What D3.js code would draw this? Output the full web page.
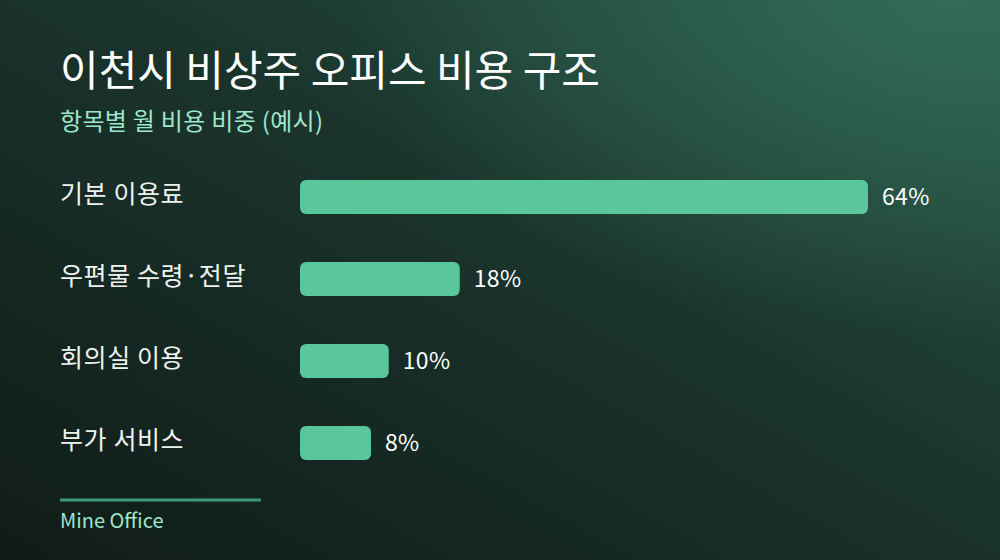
<!DOCTYPE html>
<html>
<head>
<meta charset="utf-8">
<script src="https://cdn.jsdelivr.net/npm/d3@7"></script>
<style>
  html, body { margin: 0; padding: 0; background: #111c19; }
  svg { display: block; font-family: "Noto Sans CJK KR", "Noto Sans", sans-serif; }
</style>
</head>
<body>
<div class="chart-div"></div>
<script>
const categories = ["기본 이용료", "우편물 수령·전달", "회의실 이용", "부가 서비스"]
const shares = [64, 18, 10, 8]
const valueLabels = ["64%", "18%", "10%", "8%"]

const title = "이천시 비상주 오피스 비용 구조"
const subtitle = "항목별 월 비용 비중 (예시)"
const source = "Mine Office"

const chart = () => {

    let width = 1000, height = 560

    let svg = d3.select(".chart-div").append("svg")
        .attr("width", width)
        .attr("height", height)

    let defs = svg.append("defs")

    let bg = defs.append("linearGradient")
        .attr("id", "bg")
        .attr("x1", "0").attr("y1", "1")
        .attr("x2", "1").attr("y2", "0")
    bg.append("stop").attr("offset", "0%").attr("stop-color", "#101b18")
    bg.append("stop").attr("offset", "55%").attr("stop-color", "#1a342c")
    bg.append("stop").attr("offset", "100%").attr("stop-color", "#285646")

    let glow = defs.append("radialGradient")
        .attr("id", "glow")
        .attr("cx", "0.95").attr("cy", "0.0").attr("r", "0.6")
    glow.append("stop").attr("offset", "0%").attr("stop-color", "#346e59").attr("stop-opacity", 0.85)
    glow.append("stop").attr("offset", "100%").attr("stop-color", "#346e59").attr("stop-opacity", 0)

    svg.append("rect").attr("width", width).attr("height", height).attr("fill", "url(#bg)")
    svg.append("rect").attr("width", width).attr("height", height).attr("fill", "url(#glow)")

    // titles
    svg.append("text")
        .attr("x", 60).attr("y", 86)
        .attr("fill", "#ffffff")
        .style("font-size", "42px")
        .style("font-weight", 400)
        .text(title)

    svg.append("text")
        .attr("x", 60).attr("y", 130)
        .attr("fill", "#9fe6cc")
        .style("font-size", "24px")
        .style("letter-spacing", "0.3px")
        .text(subtitle)

    // scales
    let barH = 34, step = 82

    let x = d3.scaleLinear()
        .domain([0, d3.max(shares)])
        .range([300, 868])

    let y = d3.scaleBand()
        .domain(categories)
        .range([180, 180 + step * (categories.length - 1) + barH])
        .paddingInner((step - barH) / step)
        .paddingOuter(0)

    let rows = svg.selectAll("g.row")
        .data(categories)
        .enter().append("g")
        .attr("class", "row")

    rows.append("text")
        .attr("x", 60)
        .attr("y", d => y(d) + y.bandwidth() / 2 - 3)
        .attr("dy", "0.35em")
        .attr("fill", "#eef3f0")
        .style("font-size", "25px")
        .style("letter-spacing", "0.6px")
        .text(d => d)

    rows.append("rect")
        .attr("x", x(0))
        .attr("y", d => y(d))
        .attr("width", (d, i) => x(shares[i]) - x(0))
        .attr("height", y.bandwidth())
        .attr("rx", 6)
        .attr("ry", 6)
        .attr("fill", "#5ac69b")

    rows.append("text")
        .attr("x", (d, i) => x(shares[i]) + 14)
        .attr("y", d => y(d) + y.bandwidth() / 2)
        .attr("dy", "0.35em")
        .attr("fill", "#ffffff")
        .style("font-size", "23px")
        .style("letter-spacing", "0.3px")
        .text((d, i) => valueLabels[i])

    // footer
    svg.append("line")
        .attr("x1", 60).attr("x2", 261)
        .attr("y1", 500).attr("y2", 500)
        .attr("stroke", "#3f9a7a")
        .attr("stroke-width", 3)

    svg.append("text")
        .attr("x", 60).attr("y", 528)
        .attr("fill", "#9fe6cc")
        .style("font-size", "20px")
        .text(source)
}

chart()
</script>
</body>
</html>
